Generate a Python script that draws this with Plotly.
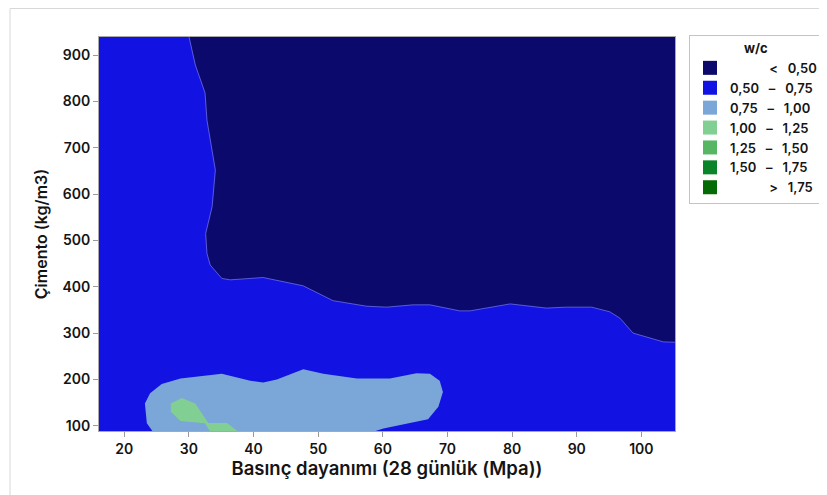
import plotly.graph_objects as go

# axis ranges (data units)
x_range = [16.1, 105.2]
y_range = [88.5, 939.5]

# contour levels and colours
level_left = ["", "0,50", "0,75", "1,00", "1,25", "1,50", ""]
level_mid = ["<", "–", "–", "–", "–", "–", ">"]
level_right = ["0,50", "0,75", "1,00", "1,25", "1,50", "1,75", "1,75"]
colors = ["#0B0A6C", "#1212E2", "#7BA6D8", "#82CF93", "#56B664", "#0A8429", "#046B04"]

# region boundaries (Basınç dayanımı, Çimento)
blue_x = [10, 110, 110, 10]
blue_y = [0, 0, 1000, 1000]

dark_x = [29.7, 31.0, 32.5, 32.8, 34.1, 33.6, 32.6, 32.8, 33.3, 35.1, 36.4, 41.5, 47.7, 52.3, 57.5,
          60.6, 64.7, 67.3, 71.9, 73.5, 79.7, 85.3, 88.4, 92.3, 95.1, 96.7, 98.7, 100.8, 103.4, 110, 110]
dark_y = [960, 879, 819, 760, 652, 573, 515, 472, 447, 418, 415, 420, 402, 370, 358,
          356, 361, 361, 348, 348, 363, 354, 356, 356, 346, 332, 300, 291, 281, 278, 960]

lightblue_x = [25.8, 28.7, 35.1, 39.5, 41.5, 43.6, 47.7, 50.8, 56.0, 61.1, 65.2, 67.3, 68.8, 69.3,
               68.6, 67.0, 60.1, 57.0, 24.8, 23.5, 23.2, 24.0]
lightblue_y = [190, 202, 212, 197, 193, 200, 222, 212, 202, 202, 213, 212, 197, 173,
               141, 114, 94, 80, 80, 105, 148, 170]

green_x = [27.2, 28.9, 31.0, 33.0, 35.9, 38.3, 33.6, 32.5, 28.7, 27.2]
green_y = [148, 160, 148, 106, 106, 80, 80, 105, 110, 130]

x_ticks = [20, 30, 40, 50, 60, 70, 80, 90, 100]
y_ticks = [100, 200, 300, 400, 500, 600, 700, 800, 900]

fig = go.Figure()

regions = [
    (blue_x, blue_y, colors[1], "rgba(0,0,0,0)"),
    (dark_x, dark_y, colors[0], "rgba(140,140,255,0.75)"),
    (lightblue_x, lightblue_y, colors[2], "rgba(0,0,0,0)"),
    (green_x, green_y, colors[3], "rgba(0,0,0,0)"),
]
for xs, ys, c, lc in regions:
    fig.add_trace(go.Scatter(x=xs, y=ys, mode="lines", fill="toself", fillcolor=c,
                             line=dict(color=lc, width=0.8), showlegend=False, hoverinfo="skip"))

FS = "\u2007"   # figure space (digit width)
PS = "\u2008"   # punctuation space (comma width)
NB = "\u00a0"
blank = FS + PS + FS + FS
for i in range(len(colors)):
    left = level_left[i] if level_left[i] else blank
    name = f"{left}{NB*3}{level_mid[i]}{NB*3}{level_right[i]}"
    fig.add_trace(go.Scatter(x=[None], y=[None], mode="markers",
                             marker=dict(symbol="square", size=14, color=colors[i]),
                             name=name, showlegend=True))

font_fam = "Inter, DejaVu Sans, sans-serif"

# the page body adds an 8 px offset; the figure is sized and placed to compensate
W, H = 819, 487
L, T, PW, PH = 91, 29, 576, 394

fig.update_layout(
    width=W, height=H,
    margin=dict(l=L, r=W - L - PW, t=T, b=H - T - PH, autoexpand=False),
    paper_bgcolor="white", plot_bgcolor=colors[1],
    font=dict(family=font_fam, color="#141414"),
    showlegend=True,
    legend=dict(
        x=(681 - L) / PW, xanchor="left", y=(T + PH - 27) / PH, yanchor="top",
        bordercolor="#c4c4c4", borderwidth=1, bgcolor="white",
        font=dict(size=13, family=font_fam, weight=600, color="#141414"),
        title=dict(text="w/c", side="top center", font=dict(size=13, weight=700)),
        itemwidth=30, tracegroupgap=0,
    ),
    xaxis=dict(range=x_range, tickvals=x_ticks, ticks="outside", ticklen=5, tickcolor="#9a9a9a",
               showgrid=False, zeroline=False, showline=True, linecolor="#a8a8a8", mirror=True,
               automargin=False,
               tickfont=dict(size=14, weight=600),
               title=dict(text="Basınç dayanımı (28 günlük (Mpa))", font=dict(size=18.5, weight=600),
                          standoff=5)),
    yaxis=dict(range=y_range, tickvals=y_ticks, ticks="outside", ticklen=5, tickcolor="#9a9a9a",
               showgrid=False, zeroline=False, showline=True, linecolor="#a8a8a8", mirror=True,
               automargin=False,
               tickfont=dict(size=14, weight=600),
               title=dict(text="Çimento (kg/m3)", font=dict(size=16, weight=600), standoff=10)),
    shapes=[dict(type="rect", xref="paper", yref="paper",
                 x0=(2 - L) / PW, x1=(818 - L) / PW, y0=(T + PH - 495) / PH, y1=(T + PH - 0.5) / PH,
                 line=dict(color="#d8d8d8", width=1), fillcolor="rgba(0,0,0,0)", layer="below")],
)

fig.write_html("out.html")
